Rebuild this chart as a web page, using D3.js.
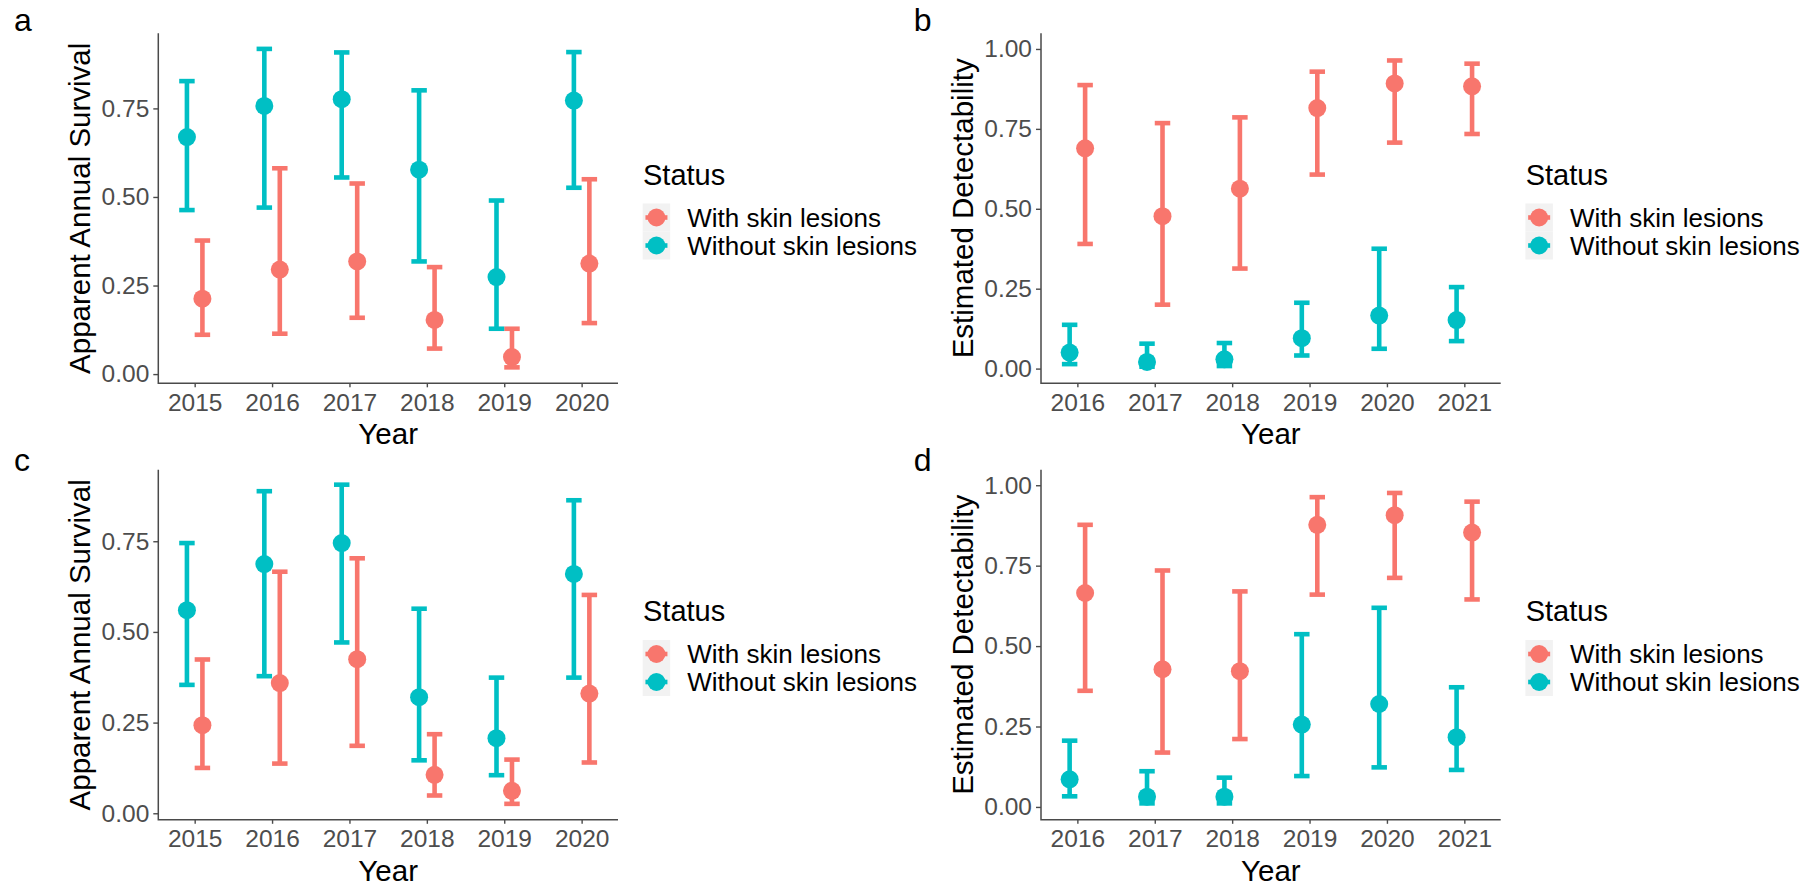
<!DOCTYPE html>
<html>
<head>
<meta charset="utf-8">
<script src="https://cdn.jsdelivr.net/npm/d3@7"></script>
<style>
  html, body { margin: 0; padding: 0; background: #ffffff; }
  svg { display: block; }
  text { font-family: "Liberation Sans", Arial, sans-serif; }
</style>
</head>
<body>
<svg id="chart" width="1816" height="885"></svg>
<script>
// ---- Data -------------------------------------------------------------
const seriesNames = ["With skin lesions", "Without skin lesions"];
const seriesColors = ["#F8766D", "#00BFC4"];

const yearsSurvival = [2015, 2016, 2017, 2018, 2019, 2020];
const yearsDetect = [2016, 2017, 2018, 2019, 2020, 2021];

// Panel a: apparent annual survival
const aWithEst = [0.213, 0.295, 0.318, 0.153, 0.048, 0.312];
const aWithLo  = [0.111, 0.114, 0.159, 0.072, 0.019, 0.144];
const aWithHi  = [0.377, 0.581, 0.538, 0.302, 0.128, 0.550];
const aWithoutEst = [0.669, 0.757, 0.776, 0.577, 0.274, 0.772];
const aWithoutLo  = [0.463, 0.470, 0.555, 0.318, 0.128, 0.526];
const aWithoutHi  = [0.827, 0.918, 0.908, 0.801, 0.490, 0.909];

// Panel b: estimated detectability
const bWithEst = [0.689, 0.477, 0.563, 0.815, 0.892, 0.883];
const bWithLo  = [0.390, 0.200, 0.313, 0.607, 0.707, 0.734];
const bWithHi  = [0.887, 0.768, 0.786, 0.929, 0.964, 0.954];
const bWithoutEst = [0.050, 0.021, 0.029, 0.095, 0.166, 0.152];
const bWithoutLo  = [0.014, 0.006, 0.008, 0.041, 0.062, 0.086];
const bWithoutHi  = [0.137, 0.078, 0.080, 0.206, 0.375, 0.255];

// Panel c: apparent annual survival
const cWithEst = [0.243, 0.359, 0.425, 0.106, 0.062, 0.330];
const cWithLo  = [0.125, 0.137, 0.186, 0.049, 0.026, 0.140];
const cWithHi  = [0.424, 0.666, 0.703, 0.218, 0.148, 0.602];
const cWithoutEst = [0.560, 0.687, 0.745, 0.320, 0.207, 0.660];
const cWithoutLo  = [0.354, 0.378, 0.471, 0.146, 0.105, 0.374];
const cWithoutHi  = [0.745, 0.888, 0.906, 0.564, 0.374, 0.863];

// Panel d: estimated detectability
const dWithEst = [0.665, 0.428, 0.422, 0.877, 0.907, 0.853];
const dWithLo  = [0.361, 0.169, 0.211, 0.660, 0.712, 0.645];
const dWithHi  = [0.877, 0.735, 0.670, 0.963, 0.976, 0.949];
const dWithoutEst = [0.086, 0.032, 0.032, 0.256, 0.320, 0.217];
const dWithoutLo  = [0.033, 0.011, 0.011, 0.096, 0.123, 0.115];
const dWithoutHi  = [0.206, 0.111, 0.091, 0.537, 0.619, 0.372];

const survivalTicks = [0, 0.25, 0.5, 0.75];
const detectTicks = [0, 0.25, 0.5, 0.75, 1.0];

// ---- Layout -----------------------------------------------------------
const plotLeft = 158.3, plotRight = 618, plotTop = 33.3, plotBottom = 383.3;
const colShift = 882.7, rowShift = 436.5;
const dodge = 0.1;          // horizontal offset of each status group (years)
const capHalf = 0.1;        // half width of error-bar caps (years)
const xPad = 0.47;          // horizontal padding around the year range

const panels = [
  { label: "a", dx: 0, dy: 0, years: yearsSurvival, yTitle: "Apparent Annual Survival",
    yDomain: [-0.026, 0.962], ticks: survivalTicks,
    series: [[aWithEst, aWithLo, aWithHi], [aWithoutEst, aWithoutLo, aWithoutHi]] },
  { label: "b", dx: colShift, dy: 0, years: yearsDetect, yTitle: "Estimated Detectability",
    yDomain: [-0.046, 1.049], ticks: detectTicks,
    series: [[bWithEst, bWithLo, bWithHi], [bWithoutEst, bWithoutLo, bWithoutHi]] },
  { label: "c", dx: 0, dy: rowShift, years: yearsSurvival, yTitle: "Apparent Annual Survival",
    yDomain: [-0.018, 0.947], ticks: survivalTicks,
    series: [[cWithEst, cWithLo, cWithHi], [cWithoutEst, cWithoutLo, cWithoutHi]] },
  { label: "d", dx: colShift, dy: rowShift, years: yearsDetect, yTitle: "Estimated Detectability",
    yDomain: [-0.040, 1.048], ticks: detectTicks,
    series: [[dWithEst, dWithLo, dWithHi], [dWithoutEst, dWithoutLo, dWithoutHi]] }
];

const svg = d3.select("#chart");
const axisColor = "#4a4a4a";
const tickTextColor = "#4D4D4D";

panels.forEach(p => {
  const g = svg.append("g").attr("transform", `translate(${p.dx},${p.dy})`);

  const x = d3.scaleLinear()
    .domain([d3.min(p.years) - xPad, d3.max(p.years) + xPad])
    .range([plotLeft, plotRight]);
  const y = d3.scaleLinear().domain(p.yDomain).range([plotBottom, plotTop]);

  // Y axis
  const yAxis = d3.axisLeft(y).tickValues(p.ticks).tickFormat(d3.format(".2f"))
    .tickSize(5).tickPadding(4);
  const yg = g.append("g").attr("transform", `translate(${plotLeft},0)`).call(yAxis);
  yg.select(".domain").remove();
  yg.selectAll(".tick line").attr("stroke", axisColor).attr("stroke-width", 1.4);
  yg.selectAll(".tick text").attr("fill", tickTextColor)
    .style("font-size", "24.5px").style("font-family", "Liberation Sans, Arial, sans-serif");

  // X axis
  const xAxis = d3.axisBottom(x).tickValues(p.years).tickFormat(d3.format("d"))
    .tickSize(4).tickPadding(6);
  const xg = g.append("g").attr("transform", `translate(0,${plotBottom})`).call(xAxis);
  xg.select(".domain").remove();
  xg.selectAll(".tick line").attr("stroke", axisColor).attr("stroke-width", 1.4);
  xg.selectAll(".tick text").attr("fill", tickTextColor)
    .style("font-size", "24.5px").style("font-family", "Liberation Sans, Arial, sans-serif");

  // Axis lines (L-shaped, classic theme)
  g.append("path")
    .attr("d", `M${plotLeft},${plotTop}V${plotBottom}H${plotRight}`)
    .attr("fill", "none").attr("stroke", axisColor).attr("stroke-width", 1.5);

  // Axis titles
  g.append("text")
    .attr("x", (plotLeft + plotRight) / 2).attr("y", 444)
    .attr("text-anchor", "middle").attr("fill", "#000")
    .style("font-size", "29.5px").text("Year");
  g.append("text")
    .attr("transform", `translate(90,${(plotTop + plotBottom) / 2}) rotate(-90)`)
    .attr("text-anchor", "middle").attr("fill", "#000")
    .style("font-size", "29.5px").text(p.yTitle);

  // Panel label
  const leftCol = p.label === "a" || p.label === "c";
  const topRow = p.label === "a" || p.label === "b";
  g.append("text")
    .attr("x", leftCol ? 14 : 31).attr("y", topRow ? 31 : 34.5)
    .attr("fill", "#000").style("font-size", "32px").text(p.label);

  // Error bars then points
  const marks = [];
  p.series.forEach((s, si) => {
    p.years.forEach((yr, i) => {
      marks.push({ si, xv: yr + (si === 0 ? dodge : -dodge), est: s[0][i], lo: s[1][i], hi: s[2][i] });
    });
  });

  const eb = g.append("g").attr("fill", "none").attr("stroke-width", 4.6);
  marks.forEach(m => {
    const c = seriesColors[m.si];
    eb.append("line").attr("x1", x(m.xv)).attr("x2", x(m.xv))
      .attr("y1", y(m.lo)).attr("y2", y(m.hi)).attr("stroke", c);
    eb.append("line").attr("x1", x(m.xv - capHalf)).attr("x2", x(m.xv + capHalf))
      .attr("y1", y(m.hi)).attr("y2", y(m.hi)).attr("stroke", c);
    eb.append("line").attr("x1", x(m.xv - capHalf)).attr("x2", x(m.xv + capHalf))
      .attr("y1", y(m.lo)).attr("y2", y(m.lo)).attr("stroke", c);
  });

  g.append("g").selectAll("circle").data(marks).join("circle")
    .attr("cx", m => x(m.xv)).attr("cy", m => y(m.est)).attr("r", 9)
    .attr("fill", m => seriesColors[m.si]);

  // Legend
  const lg = g.append("g");
  lg.append("text").attr("x", 643).attr("y", 184.5).attr("fill", "#000")
    .style("font-size", "29px").text("Status");
  const keyX = 642.7, keyW = 27.5, keyTop = 203.5, keyH = 28;
  seriesNames.forEach((name, i) => {
    const ky = keyTop + i * keyH;
    lg.append("rect").attr("x", keyX).attr("y", ky).attr("width", keyW).attr("height", keyH)
      .attr("fill", "#F2F2F2");
    const cy = ky + keyH / 2;
    lg.append("line").attr("x1", keyX + keyW * 0.1).attr("x2", keyX + keyW * 0.9)
      .attr("y1", cy).attr("y2", cy).attr("stroke", seriesColors[i]).attr("stroke-width", 4.6);
    lg.append("circle").attr("cx", keyX + keyW / 2).attr("cy", cy).attr("r", 9)
      .attr("fill", seriesColors[i]);
    lg.append("text").attr("x", 687.3).attr("y", cy + 9).attr("fill", "#000")
      .style("font-size", "26px").text(name);
  });
});
</script>
</body>
</html>
